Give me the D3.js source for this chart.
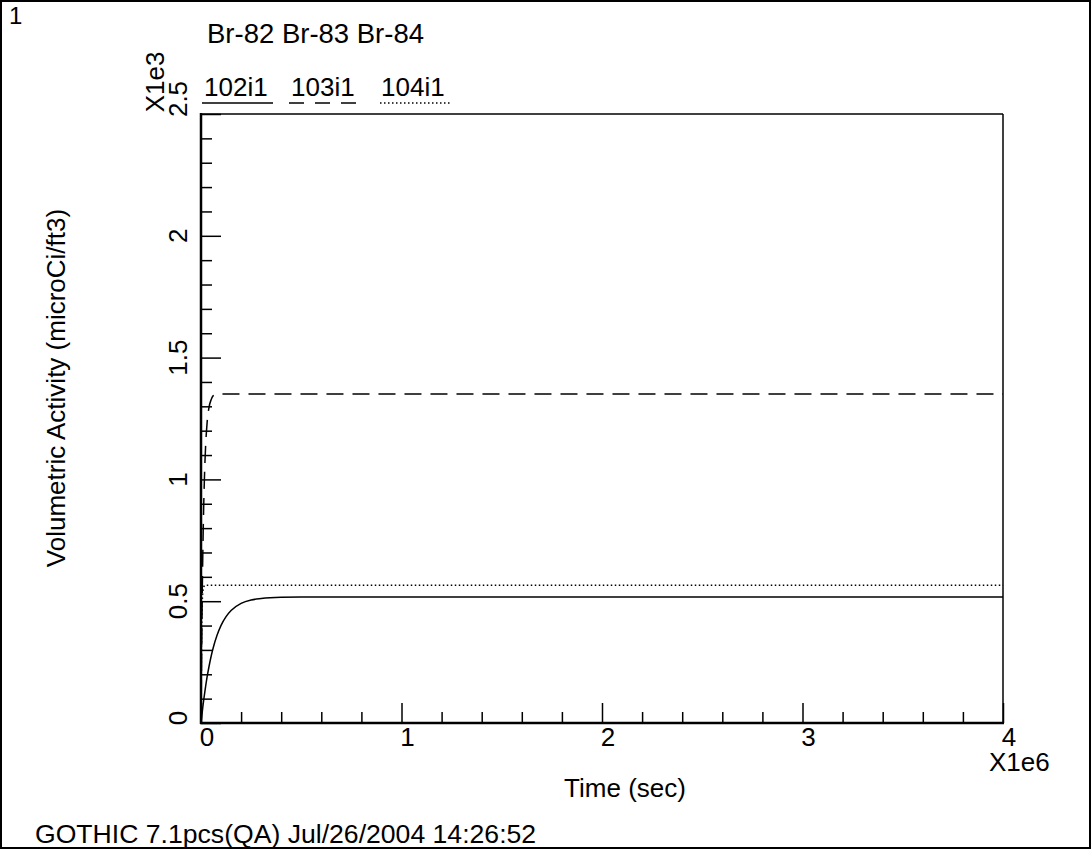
<!DOCTYPE html>
<html>
<head>
<meta charset="utf-8">
<script src="https://cdn.jsdelivr.net/npm/d3@7"></script>
<style>
  body { margin: 0; background: #fff; }
  text { font-family: "Liberation Sans", Arial, sans-serif; fill: #000; }
</style>
</head>
<body>
<div id="chart"></div>
<script>
// ---- data ----
var seriesNames = ["102i1", "103i1", "104i1"];
var titleText = "Br-82 Br-83 Br-84";

// 102i1 (solid)
var time102 = [0, 10000, 20000, 30000, 40000, 50000, 60000, 80000, 100000, 125000, 150000, 200000, 250000, 300000, 400000, 500000, 4000000];
var value102 = [0, 72, 133, 187, 232, 272, 306, 360, 401, 437, 462, 491, 505, 511, 516, 517, 517];

// 103i1 (dashed)
var time103 = [0, 2500, 5000, 7500, 10000, 15000, 20000, 30000, 40000, 50000, 60000, 80000, 100000, 4000000];
var value103 = [0, 245, 446, 610, 744, 944, 1078, 1228, 1296, 1326, 1343, 1350, 1351, 1351];

// 104i1 (dotted)
var time104 = [0, 1000, 2000, 4000, 6000, 10000, 15000, 20000, 4000000];
var value104 = [0, 159, 275, 416, 489, 545, 561, 565, 565];

var xMajorTicks = [0, 1e6, 2e6, 3e6, 4e6];
var xTickLabels = ["0", "1", "2", "3", "4"];
var yMajorTicks = [0, 500, 1000, 1500, 2000, 2500];
var yTickLabels = ["0", "0.5", "1", "1.5", "2", "2.5"];

var width = 1092, height = 851;
var fs = 26;

var svg = d3.select("#chart").append("svg")
    .attr("width", width)
    .attr("height", height);

// outer page frame
svg.append("rect")
    .attr("x", 1).attr("y", 1)
    .attr("width", 1089).attr("height", 847)
    .attr("fill", "none").attr("stroke", "#000").attr("stroke-width", 2);

var x = d3.scaleLinear().domain([0, 4e6]).range([201, 1003]);
var y = d3.scaleLinear().domain([0, 2500]).range([723, 114]);

var xMinor = d3.range(0, 4e6 + 1, 2e5).filter(function (v) { return xMajorTicks.indexOf(v) < 0; });
var yMinor = d3.range(0, 2501, 100).filter(function (v) { return yMajorTicks.indexOf(v) < 0; });

// ticks drawn inward
var g = svg.append("g");
function tidy(s) { s.select(".domain").remove(); s.selectAll("line").attr("stroke-width", 1.5); }
g.append("g")
    .attr("transform", "translate(0,723)")
    .call(d3.axisBottom(x).tickValues(xMinor).tickSize(-11).tickFormat(""))
    .call(tidy);
g.append("g")
    .attr("transform", "translate(0,723)")
    .call(d3.axisBottom(x).tickValues(xMajorTicks).tickSize(-20).tickFormat(""))
    .call(tidy);
g.append("g")
    .attr("transform", "translate(201,0)")
    .call(d3.axisLeft(y).tickValues(yMinor).tickSize(-11).tickFormat(""))
    .call(tidy);
g.append("g")
    .attr("transform", "translate(201,0)")
    .call(d3.axisLeft(y).tickValues(yMajorTicks).tickSize(-20).tickFormat(""))
    .call(tidy);

// plot frame
svg.append("line").attr("x1", 201).attr("x2", 1003).attr("y1", 114).attr("y2", 114)
    .attr("stroke", "#000").attr("stroke-width", 1.5);
svg.append("line").attr("x1", 1003).attr("x2", 1003).attr("y1", 114).attr("y2", 723)
    .attr("stroke", "#000").attr("stroke-width", 1.5);
svg.append("line").attr("x1", 201).attr("x2", 201).attr("y1", 113).attr("y2", 724)
    .attr("stroke", "#000").attr("stroke-width", 2.5);
svg.append("line").attr("x1", 200).attr("x2", 1004).attr("y1", 723).attr("y2", 723)
    .attr("stroke", "#000").attr("stroke-width", 2.5);

// curves
var dashes = [null, "17,9", "1.5,2.5"];
var allSeries = [
  { t: time102, v: value102 },
  { t: time103, v: value103 },
  { t: time104, v: value104 }
];
var line = d3.line()
    .x(function (d) { return x(d[0]); })
    .y(function (d) { return y(d[1]); })
    .curve(d3.curveMonotoneX);

allSeries.forEach(function (s, i) {
  var pts = s.t.map(function (t, k) { return [t, s.v[k]]; });
  svg.append("path")
      .datum(pts)
      .attr("d", line)
      .attr("fill", "none")
      .attr("stroke", "#000")
      .attr("stroke-width", 1.5)
      .attr("stroke-dasharray", dashes[i]);
});

// x tick labels
svg.selectAll(".xlab").data(xMajorTicks).enter().append("text")
    .attr("class", "xlab")
    .attr("x", function (d) { return x(d) + 6; })
    .attr("y", 746)
    .attr("text-anchor", "middle")
    .style("font-size", fs + "px")
    .text(function (d, i) { return xTickLabels[i]; });
svg.append("text").attr("x", 989).attr("y", 771)
    .style("font-size", fs + "px").text("X1e6");

// y tick labels (rotated)
svg.selectAll(".ylab").data(yMajorTicks).enter().append("text")
    .attr("class", "ylab")
    .attr("transform", function (d, i) {
      var yy = y(d);
      if (d === 2500) yy = 99;
      if (d === 0) yy = 718;
      return "translate(187," + yy + ") rotate(-90)";
    })
    .attr("text-anchor", "middle")
    .style("font-size", fs + "px")
    .text(function (d, i) { return yTickLabels[i]; });
svg.append("text").attr("transform", "translate(164,82) rotate(-90)")
    .attr("text-anchor", "middle")
    .style("font-size", fs + "px").text("X1e3");

// axis titles
svg.append("text").attr("x", 625).attr("y", 797)
    .attr("text-anchor", "middle")
    .style("font-size", fs + "px").text("Time (sec)");
svg.append("text").attr("transform", "translate(65,388) rotate(-90)")
    .attr("text-anchor", "middle")
    .style("font-size", fs + "px").text("Volumetric Activity (microCi/ft3)");

// header
svg.append("text").attr("x", 9).attr("y", 24)
    .style("font-size", "24px").text("1");
svg.append("text").attr("x", 207).attr("y", 43)
    .style("font-size", "27.5px").text(titleText);

// legend
var legX = [204, 291, 381];
var legLine = [[202, 273], [289, 362], [380, 452]];
seriesNames.forEach(function (n, i) {
  svg.append("text").attr("x", legX[i]).attr("y", 96)
      .style("font-size", fs + "px").text(n);
  svg.append("line")
      .attr("x1", legLine[i][0]).attr("x2", legLine[i][1])
      .attr("y1", 103).attr("y2", 103)
      .attr("stroke", "#000").attr("stroke-width", 1.5)
      .attr("stroke-dasharray", i === 1 ? "15,11" : dashes[i]);
});

// footer
svg.append("text").attr("x", 35).attr("y", 843)
    .style("font-size", "26.6px").text("GOTHIC 7.1pcs(QA) Jul/26/2004 14:26:52");
</script>
</body>
</html>
